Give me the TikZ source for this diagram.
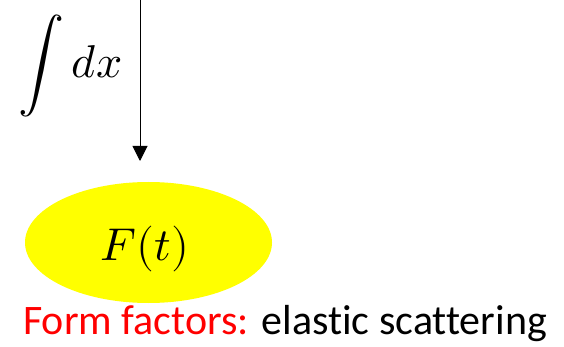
\documentclass[tikz,border=0pt]{standalone}
\usepackage{fontspec}
\usepackage{unicode-math}
\setmainfont{Carlito}[Ligatures=NoCommon]
\setmathfont{Latin Modern Math}
\usetikzlibrary{shapes.geometric,arrows.meta}
\definecolor{blobyellow}{RGB}{255,255,0}
\definecolor{labred}{RGB}{255,0,0}
\tikzset{
  blob/.style={ellipse, fill=blobyellow, draw=none, minimum width=247pt, minimum height=121pt, inner sep=0pt},
  flow/.style={line width=1pt, -{Triangle[width=15pt,length=15pt]}},
  bigmath/.style={inner sep=0pt, font=\fontsize{46}{48}\selectfont},
}
\begin{document}
\begin{tikzpicture}[x=1pt,y=-1pt]
\useasboundingbox (0,0) rectangle (564,347);
\coordinate (top) at (140,0);
\coordinate (tip) at (140,161);
\draw[flow] (top) -- (tip);
\node[bigmath, anchor=base west] (dx) at (18,78) {$\displaystyle\int dx$};
\node[blob] (ff) at (148.5,242.5) {};
\node[bigmath, anchor=base] (ft) at (145,260) {$F(t)$};
\node[inner sep=0pt, anchor=base west, font=\fontsize{42}{44}\selectfont] (lab) at (23,334) {\textcolor{labred}{Form factors:} elastic scattering};
\end{tikzpicture}
\end{document}
